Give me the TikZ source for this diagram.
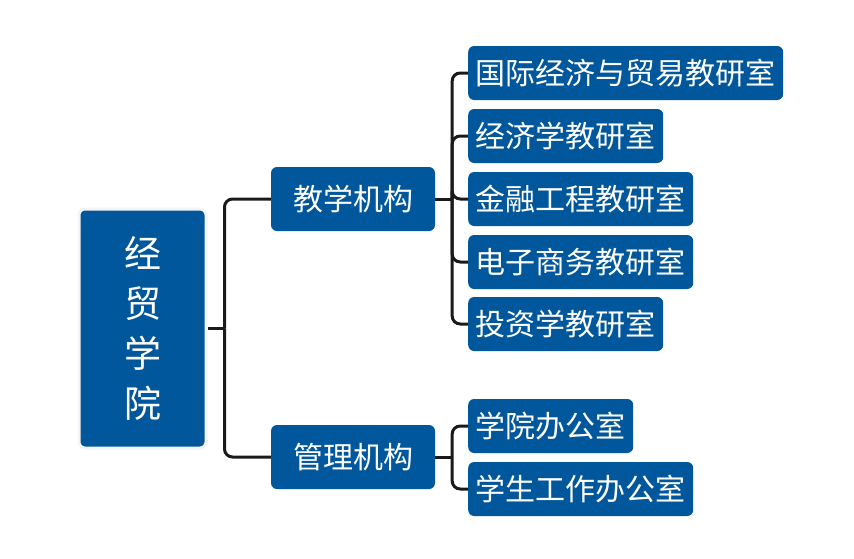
\documentclass[tikz,border=0pt]{standalone}
\usepackage{fontspec}
\newfontfamily\cjk{Noto Sans CJK SC}
\usetikzlibrary{calc}
\definecolor{boxblue}{RGB}{1,87,155}
\definecolor{linedark}{RGB}{26,26,26}

\begin{document}
\begin{tikzpicture}[x=1pt, y=-1pt,
    box/.style={fill=boxblue, text=white, rounded corners=6pt, anchor=west,
        font=\cjk\fontsize{30}{30}\selectfont, inner xsep=7.5pt, inner ysep=0pt, minimum height=54pt},
    midbox/.style={box, anchor=center, inner xsep=22pt, minimum height=64pt},
    conn/.style={draw=linedark, line width=3pt, rounded corners=8pt}]
    \useasboundingbox (0,0) rectangle (854,558);

    % === Root ===
    \node[fill=boxblue, draw=gray!8, line width=3pt, rounded corners=6pt, text=white,
        minimum width=127pt, minimum height=239pt, align=center,
        font=\cjk\fontsize{37}{50}\selectfont] (root) at (142.5,328.5) {经\\贸\\学\\院};

    % === Level 1 ===
    \node[midbox] (teach) at (353,199) {教学机构};
    \node[midbox] (admin) at (353,457) {管理机构};

    % === Level 2 ===
    \node[box] (intl) at (468,73) {国际经济与贸易教研室};
    \node[box] (econ) at (468,136) {经济学教研室};
    \node[box] (fin)  at (468,199) {金融工程教研室};
    \node[box] (ecom) at (468,262) {电子商务教研室};
    \node[box] (inv)  at (468,324) {投资学教研室};
    \node[box] (office) at (468,426) {学院办公室};
    \node[box] (stud)   at (468,489) {学生工作办公室};

    % Connectors
    \coordinate (rj) at ($(root.east)+(17,0)$);
    \draw[conn] (root.east) -- (rj);
    \draw[conn] (rj) |- (teach.west);
    \draw[conn] (rj) |- (admin.west);

    \coordinate (tj) at ($(teach.east)+(17,0)$);
    \draw[conn] (teach.east) -- (tj);
    \foreach \n in {intl, econ, fin, ecom, inv}
        \draw[conn] (tj) |- (\n.west);

    \coordinate (aj) at ($(admin.east)+(17,0)$);
    \draw[conn] (admin.east) -- (aj);
    \foreach \n in {office, stud}
        \draw[conn] (aj) |- (\n.west);
\end{tikzpicture}
\end{document}
